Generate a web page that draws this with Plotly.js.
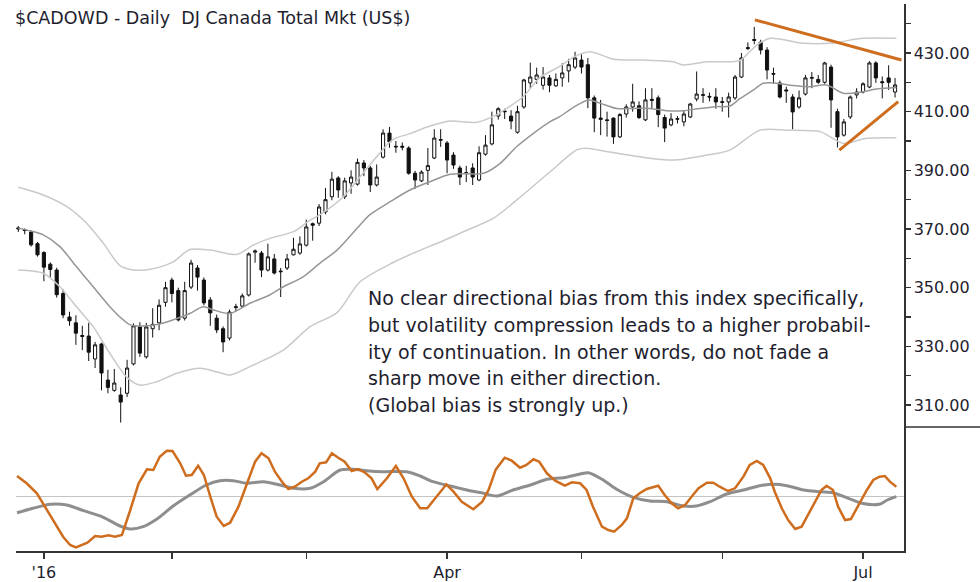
<!DOCTYPE html>
<html>
<head>
<meta charset="utf-8">
<script src="https://cdn.plot.ly/plotly-3.0.1.min.js"></script>
<style>
html,body{margin:0;padding:0;background:#fff;}
#chart{width:980px;height:582px;}
</style>
</head>
<body>
<div id="chart"></div>
<script>
// ---- Daily candles (index 0 = first session shown, late Dec 2015) ----
const openP = [
370,369.8,369,365,362,358,356,348,340,338,
333.7,333.5,325.7,330.8,318.5,315,313.4,314,324,336.6,
326.4,336,338,345,352.6,349,339.6,350.2,356.7,352.6,
345.8,339.6,336,332.8,343.2,343.7,347.5,362.1,361.8,356,
359.8,355.4,356.7,361.2,361.8,364.5,371.8,372,375.8,381,
387.4,381,385.7,385.3,392.5,390.8,385,394.5,402.7,398.2,
398.2,397.6,389,386.4,390,394.2,400.5,399.3,395.2,390.8,
389.2,390.8,386.7,395.5,399,408.5,410.2,408.5,403,411.6,
419.8,421,419,421.5,418.8,421.5,423.9,425.2,427.6,426,
414.7,407.8,407.2,407.8,401.4,409.2,411.6,412,407.2,414.2,
414.7,408,405.5,407.4,406.5,408.2,414.3,415.8,415.2,415,
413.4,413.3,414.7,421.8,431.5,434.6,433.7,431,423,419.8,
417.4,415,411.6,416,421.4,421,420,425.2,410,402,
408.2,415.7,416.7,418.4,426.6,420.2,421.5,416.7
];
const highP = [
371,370.2,369.5,365.6,362.4,358.6,356.8,349.4,341.8,340.6,
337,338,331.5,331.2,322,322.3,316,325.4,337.8,338.2,
338,343,346,352,353.4,350,352,359.5,357.7,353.5,
346.8,340.8,336.8,342.5,344.5,348,362,363,362.5,365,
361.5,356.7,361.5,367,367.5,373.2,372.2,378.5,384,389.5,
388,387.5,390,394,393.5,391.5,392,404,404.8,400,
399.5,398.2,389.8,390,397.6,404,404,400,396.2,391.6,
391.5,392.4,398.2,402,410,411.5,411,410.5,412,421.2,
426.7,425,425.2,422.5,423,426.5,428,430.4,429.6,428.3,
415.5,414,410,408,409.5,412.5,419.5,413.5,418,418,
415.5,409,409.5,408.5,410.5,413,423.7,418,416.5,418,
415,416.5,422.5,430,433.6,438.9,434.5,432,425,420.6,
418.5,416,417.2,422.5,423.5,422.5,427,426,411,407.5,
415.5,418,420,427.2,427.2,422,425.8,421.5
];
const lowP = [
369,368.2,364,360.6,352.2,353.6,346.6,339.6,337,330.5,
328.7,325,322.6,315,314,314.5,304,312.7,323.5,326.4,
325.8,333,335.5,343.5,345,338.5,338.8,349.5,349,344,
337,334.5,328,332,342,343.2,347,358.5,353.6,355.5,
354.5,346.8,356,361,361.2,364,366,371,375,379.8,
380.6,380.2,382,384.8,388,382.6,384.5,394,397.7,396,
396.8,388.5,383.7,386,385,393.8,398,389,390.5,385,
386,385,386.3,395,398.5,407.3,407.5,404,402.5,411,
418,419.5,417.5,416.6,418.5,418.5,420,424.5,423,411.2,
403,402,401.5,399,401,408,410,407.5,406.8,411,
404.7,399.6,405,406,405,407.8,413.5,413,413.5,411,
410,408,414,421.5,431,433,429.5,421,419.5,414.5,
413,404,411,415.5,418,419.5,419.5,404.5,397.8,401.5,
407.5,414.5,416.2,418,419.8,414.5,417.4,414.8
];
const closeP = [
370.3,369.5,364.6,361.2,357,356.2,347.6,340.7,338.7,334.5,
333.4,328,330.5,320.9,316,317.5,311,322.6,337,327.7,
336.6,337.5,344,350,348,339,349,358.4,353.6,344.8,
341.4,335.6,331.5,341.7,343.5,347.2,361.5,362.5,356,360.5,
355,355.6,359.8,363.1,364.9,370.7,371.3,377.5,380,387,
383.3,386.4,387.7,392.7,390.8,385,387.7,402.7,399.7,398,
397.9,389,386.7,389.4,391.6,401,400.3,393.5,391.8,387.7,
389,387.7,396,398.6,405.5,411,410,406.8,410,420.8,
421.8,422.5,421.8,419,421,423.2,426,428.3,425.2,414.7,
407.8,407.4,407,401.4,409,411.6,413.3,408,414,413.9,
409,404.4,407.5,407.6,409.2,412.6,416,415.6,415,413.3,
413.2,415,421.8,428.3,431.8,434.3,431,424.2,422.8,415,
417.1,409.9,414.7,421.5,421.6,420,426.6,414,401.4,406.5,
415,416.7,419.5,426.6,421.5,419.9,420,419.1
];

// ---- Month tick labels (session index of first trading day of month) ----
const monthIdx = [4, 24, 45, 67, 88, 110, 132];
const monthLabels = ["'16", "", "", "Apr", "", "", "Jul"];

// ---- Price envelope (read at sample sessions) ----
const upperIdx = [0,3.9,7.6,10.7,13.3,15.9,18.0,20.6,24.2,26.8,30.0,34.1,36.7,39.3,43.0,45.6,47.1,50.8,53.4,56.0,58.5,61.2,64.2,67.5,71.6,74.8,76.3,78.9,81.5,84.6,86.7,89.3,93.0,97.1,102.3,103.9,107.6,111.2,112.8,115.4,117.5,122.7,126.8,132.0,137.2];
const upperBand = [384.2,381.6,377.6,371.9,365.1,357.5,356,356.3,358.8,363,362.8,361.3,364.5,366.8,369.1,373,374.8,381,387.8,394.6,400.5,402.5,405,406.8,406.4,409,411.1,415.1,421.6,425.4,428.5,430.4,427.9,427.6,427,425.9,427,427,427.5,432.7,435,433.3,433.3,435,435];
const midIdx = [0,1.8,3.9,6.5,9.1,11.7,14.3,16.4,17.5,19.5,22.1,24.8,26.8,28.9,30.5,33.1,36.2,39.3,41.4,44.5,47.1,49.8,53.4,54.9,58.1,61.2,64.3,67.5,72.7,75.3,77.9,80.5,83.1,84.6,86.7,89.1,90.9,93.5,96.1,98.7,101.3,103.9,106.5,109.1,111.2,112.8,114.9,116.4,118.5,121.1,123.7,126.3,128.9,131.5,134.1,137.2];
const midLine = [370.3,369.4,368,364,357.1,350.3,343.5,339,337.3,336.9,337.6,339.5,341.2,343.5,342.4,341.2,344.7,347.5,350.3,353.7,358.3,362.8,371.4,374.8,379.3,383.3,386.1,388.7,389,392.4,398.1,402.6,406.6,408.3,411.4,414,412.9,411.1,411.1,411.1,410.3,410.3,411.1,411.7,411.9,414.5,417.4,419.7,419.7,418.9,418.5,419.1,416.3,416.6,417.7,418.2];
const lowerIdx = [0,3.9,6.5,9.1,11.7,14.3,16.9,19.0,21.6,24.8,28.4,31.5,33.1,36.7,41.4,45.6,49.8,53.4,58.5,62.0,66.4,70.0,74.2,77.9,83.1,87.3,88.8,91.9,97.1,102.3,107.6,111.2,115.9,120.1,125.3,126.8,128.9,132.6,137.2];
const lowerBand = [356,354.9,350.3,343.5,336.7,327.6,319.6,316.8,317.9,320.8,322.5,321,320.2,323.6,328.7,336.7,341.5,352,358.5,362,366,369.5,373.6,379.9,389.5,397,397.5,396.4,394.6,393.5,395.2,396.9,403.7,403.7,403.2,401.5,399.2,400.9,401.1];

// ---- Drawn trendlines (session index, price) ----
const resistIdx = [115.1, 138.0], resistVal = [441.3, 427.6];
const supportIdx = [128.3, 137.5], supportVal = [396.9, 413.4];

// ---- Lower oscillator panel ----
const oscFastIdx = [-0.2,1.3,2.9,4.2,5.5,7.0,8.1,9.0,10.8,12.0,13.0,14.1,15.1,16.2,17.5,18.8,20.1,21.1,22.1,23.2,24.1,25.3,26.2,27.1,28.1,29.0,30.0,31.0,32.1,33.1,34.4,35.7,37.0,38.0,39.1,40.1,41.2,42.2,43.2,44.3,45.3,46.4,47.1,48.1,49.0,50.0,51.0,52.1,53.1,54.2,55.2,56.1,57.6,59.0,60.2,61.5,62.8,63.9,65.4,66.9,68.0,69.3,71.1,72.5,73.5,74.6,76.0,77.1,78.4,79.4,80.5,81.4,82.6,83.9,85.4,86.5,87.8,88.8,89.8,91.2,92.2,93.1,94.3,95.1,96.1,97.1,98.2,100.0,101.0,102.1,103.1,104.2,105.2,106.3,107.6,108.6,109.6,110.9,112.0,113.3,114.3,115.4,116.4,117.5,118.2,119.3,120.3,121.4,122.4,123.4,124.5,125.5,126.3,127.3,128.1,129.2,130.1,131.3,132.6,133.6,134.6,135.4,136.2,137.2];
const oscFast = [20.7,13.4,3.4,-10,-23.3,-40,-48.3,-50.6,-46,-39.3,-40,-38.6,-40,-38.3,-13.3,13.4,27.4,26.7,40,46,45.7,33.4,21,21.7,31,21.7,0,-20,-29.3,-26,-10,13.4,35,43.4,38.4,25,15,7.7,10,15,18.4,25,33.4,34.4,43.4,39,35,25.7,27.7,24,18.4,7.7,18.4,30.7,18.4,0,-11.6,-11.6,0,12.4,5,-5,-12.6,-5,7,27,39,36,29,31.7,37.4,35,23.4,16,11,14.4,13.4,6.7,-10,-30,-33.3,-35,-28.3,-21.6,-1.6,3.4,7.7,11,1.7,-6.6,-11.6,-8.3,0,8.4,14,14,10,5.7,8.4,20,31.7,35.7,31.7,18.4,5,-11.6,-23.3,-32.3,-30,-18.3,-5,6.7,11,6.7,-10,-23.3,-22.3,-8.3,6.7,16.7,20,20.7,15,10];
const oscSlowIdx = [-0.2,2.3,5.0,7.6,10.2,13.3,15.9,17.5,19.5,21.6,24.2,26.8,29.4,31.5,33.6,35.7,38.3,40.9,43.0,45.6,47.7,50.3,52.3,54.4,57.0,60.7,62.8,64.8,67.5,70.1,72.7,74.8,77.3,80.0,82.6,85.2,87.8,89.1,91.4,93.5,96.1,98.7,101.3,103.9,106.0,108.1,110.7,113.3,115.9,118.0,120.1,122.7,125.3,127.3,129.7,131.8,134.5,135.8,137.2];
const oscSlow = [-16,-11.6,-7.6,-8.3,-14,-20.6,-29.3,-32.3,-30,-22.6,-9.3,1.7,11.7,16,16,13.4,15,11.7,8.4,8.4,15,26.7,27.4,26,25,25,20.7,15,10.7,6.7,3.4,0.7,6.7,11.7,17.4,19,22.7,24,16.7,7.4,-0.6,-4.3,-5,-9.3,-9.3,-5,2.7,6.7,11,12.4,11,6.7,5,4,-1.6,-6.6,-7.6,-3.3,0];

const titleText = "&#36;CADOWD - Daily \u00a0DJ Canada Total Mkt (US&#36;)";
const noteLines = [
  "No clear directional bias from this index specifically,",
  "but volatility compression leads to a higher probabil-",
  "ity of continuation. In other words, do not fade a",
  "sharp move in either direction.",
  "(Global bias is strongly up.)"
];

// ---- build ----
const sessions = openP.map((_, i) => i);
const ORANGE = '#cf6d1f';
const FONT = 'DejaVu Sans, Verdana, sans-serif';
const TXT = '#1e1e2e';

const traces = [
  {type:'scatter', mode:'lines', x:upperIdx, y:upperBand, xaxis:'x', yaxis:'y',
   line:{color:'#c9c9c9', width:1.5, shape:'spline', smoothing:0.8}, hoverinfo:'skip'},
  {type:'scatter', mode:'lines', x:lowerIdx, y:lowerBand, xaxis:'x', yaxis:'y',
   line:{color:'#c9c9c9', width:1.5, shape:'spline', smoothing:0.8}, hoverinfo:'skip'},
  {type:'scatter', mode:'lines', x:midIdx, y:midLine, xaxis:'x', yaxis:'y',
   line:{color:'#969696', width:1.5, shape:'spline', smoothing:0.8}, hoverinfo:'skip'},
  {type:'candlestick', x:sessions, open:openP, high:highP, low:lowP, close:closeP,
   xaxis:'x', yaxis:'y',
   increasing:{line:{color:'#111', width:1}, fillcolor:'#ffffff'},
   decreasing:{line:{color:'#111', width:1}, fillcolor:'#111111'},
   whiskerwidth:0},
  {type:'scatter', mode:'lines', x:resistIdx, y:resistVal, xaxis:'x', yaxis:'y',
   line:{color:ORANGE, width:3}, hoverinfo:'skip'},
  {type:'scatter', mode:'lines', x:supportIdx, y:supportVal, xaxis:'x', yaxis:'y',
   line:{color:ORANGE, width:3}, hoverinfo:'skip'},
  {type:'scatter', mode:'lines', x:oscSlowIdx, y:oscSlow, xaxis:'x', yaxis:'y2',
   line:{color:'#8e8e8e', width:3, shape:'spline', smoothing:0.8}, hoverinfo:'skip'},
  {type:'scatter', mode:'lines', x:oscFastIdx, y:oscFast, xaxis:'x', yaxis:'y2',
   line:{color:ORANGE, width:2.5}, hoverinfo:'skip'}
];

const splitFrac = (551 - 427) / 547;
const annotations = noteLines.map((t, k) => ({
  xref:'paper', yref:'paper', x:(366 - 16) / 888, y:(551 - (298 + k * 26.8)) / 547,
  xanchor:'left', yanchor:'middle', showarrow:false, text:t,
  font:{family:FONT, size:19, color:TXT}
}));

const layout = {
  width:980, height:582,
  margin:{l:16, r:76, t:4, b:31},
  paper_bgcolor:'#fff', plot_bgcolor:'#fff',
  showlegend:false,
  font:{family:FONT, color:TXT},
  title:{text:titleText, x:15/980, xanchor:'left', y:1 - 18/582, yanchor:'middle',
         font:{family:FONT, size:17.5, color:TXT}},
  xaxis:{anchor:'y2', range:[-0.36, 138.4], tickmode:'array', tickvals:monthIdx, ticktext:monthLabels,
         ticks:'outside', ticklen:6, tickwidth:1.5, tickcolor:'#333', showline:true, linecolor:'#333', linewidth:1.5,
         showgrid:false, zeroline:false, rangeslider:{visible:false}, tickfont:{family:FONT, size:16, color:TXT}},
  yaxis:{domain:[splitFrac, 1], anchor:'x', side:'right', range:[302.5, 446.7],
         tick0:310, dtick:20, tickformat:'.2f', ticks:'outside', ticklen:5, tickwidth:1.5, tickcolor:'#333',
         minor:{dtick:10, tick0:310, ticks:'outside', ticklen:5, tickwidth:1.5, tickcolor:'#333'},
         showline:true, linecolor:'#333', linewidth:1.5, showgrid:false, zeroline:false,
         ticklabelstandoff:0,
         tickfont:{family:FONT, size:16, color:TXT}},
  yaxis2:{domain:[0, splitFrac], anchor:'x', side:'right', range:[-54.3, 69.7],
          showticklabels:false, ticks:'', showline:true, linecolor:'#333', linewidth:1.5,
          showgrid:false, zeroline:true, zerolinecolor:'#c4c4c4', zerolinewidth:1},
  shapes:[
    {type:'line', xref:'paper', yref:'paper', x0:1, x1:1 + 76/888, y0:splitFrac, y1:splitFrac,
     line:{color:'#333', width:1.5}}
  ],
  annotations:annotations
};

Plotly.newPlot('chart', traces, layout, {staticPlot:true, displayModeBar:false});
</script>
</body>
</html>
